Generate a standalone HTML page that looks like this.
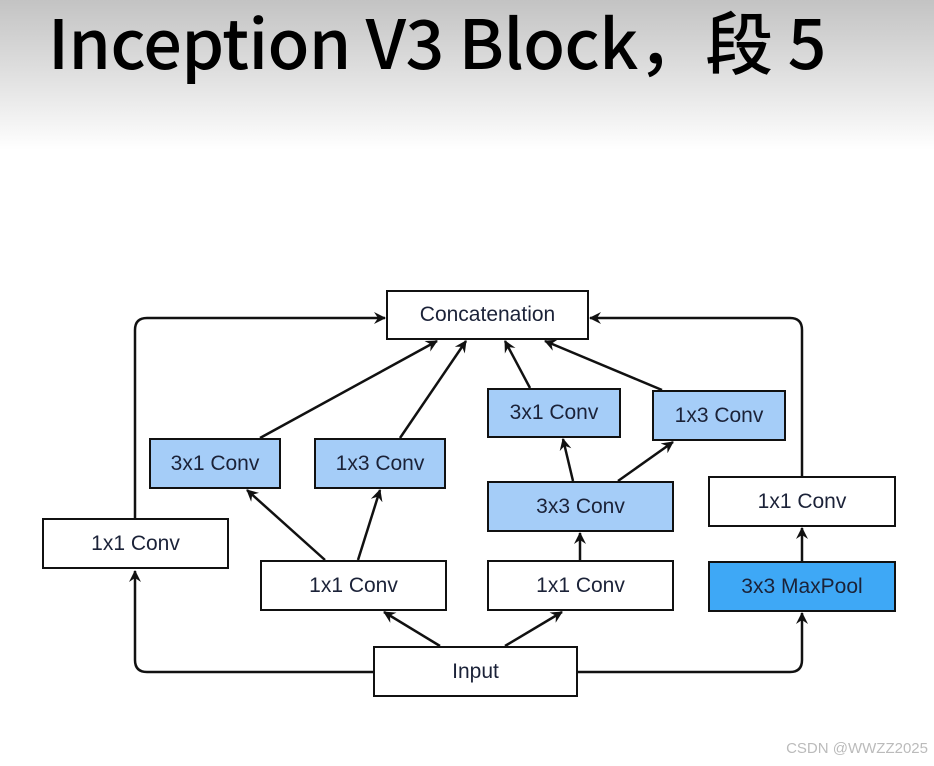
<!DOCTYPE html>
<html><head><meta charset="utf-8"><style>
html,body{margin:0;padding:0}
body{width:934px;height:766px;position:relative;overflow:hidden;background:#fff;font-family:"Liberation Sans",sans-serif}
.hdr{position:absolute;left:0;top:0;width:934px;height:150px;background:linear-gradient(#c3c3c3,#e6e6e6 60%,#fff)}
.title{position:absolute;left:48px;top:-10px;font-family:"Noto Sans CJK SC",sans-serif;font-weight:500;font-size:68px;color:#000;white-space:nowrap;letter-spacing:-0.5px}
.b{position:absolute;box-sizing:border-box;border:2px solid #111;background:#fff;display:flex;align-items:center;justify-content:center;font-size:21px;color:#1b2238}
.l{background:#a5cdf8}.d{background:#3ea8f6}
.wm{position:absolute;right:6px;top:740px;font-size:15px;color:#bbb}
</style></head><body>
<div class="hdr"></div>
<div class="title">Inception V3 Block，段 5</div>
<svg width="934" height="766" style="position:absolute;left:0;top:0">
<defs><marker id="a" markerWidth="12" markerHeight="12" refX="11" refY="6" orient="auto" markerUnits="userSpaceOnUse"><path d="M0,0 L12,6 L0,12 L4,6 z" fill="#111"/></marker></defs>
<g stroke="#111" stroke-width="2.5" fill="none" marker-end="url(#a)">
<path d="M373,672 H147 Q135,672 135,660 V571"/>
<path d="M135,518 V330 Q135,318 147,318 H385"/>
<path d="M578,672 H790 Q802,672 802,660 V613"/>
<path d="M802,561 V528"/>
<path d="M802,476 V330 Q802,318 790,318 H590"/>
<path d="M440,646 L384,612"/>
<path d="M505,646 L562,612"/>
<path d="M325,560 L247,490"/>
<path d="M358,560 L380,490"/>
<path d="M260,438 L437,341"/>
<path d="M400,438 L466,341"/>
<path d="M580,560 L580,533"/>
<path d="M573,481 L563,439"/>
<path d="M618,481 L673,442"/>
<path d="M530,388 L505,341"/>
<path d="M662,390 L545,341"/>
</g></svg>
<div class="b" style="left:386px;top:290px;width:203px;height:50px">Concatenation</div>
<div class="b l" style="left:149px;top:438px;width:132px;height:51px">3x1 Conv</div>
<div class="b l" style="left:314px;top:438px;width:132px;height:51px">1x3 Conv</div>
<div class="b l" style="left:487px;top:388px;width:134px;height:50px">3x1 Conv</div>
<div class="b l" style="left:652px;top:390px;width:134px;height:51px">1x3 Conv</div>
<div class="b l" style="left:487px;top:481px;width:187px;height:51px">3x3 Conv</div>
<div class="b" style="left:708px;top:476px;width:188px;height:51px">1x1 Conv</div>
<div class="b" style="left:42px;top:518px;width:187px;height:51px">1x1 Conv</div>
<div class="b" style="left:260px;top:560px;width:187px;height:51px">1x1 Conv</div>
<div class="b" style="left:487px;top:560px;width:187px;height:51px">1x1 Conv</div>
<div class="b d" style="left:708px;top:561px;width:188px;height:51px">3x3 MaxPool</div>
<div class="b" style="left:373px;top:646px;width:205px;height:51px">Input</div>
<div class="wm">CSDN @WWZZ2025</div>
</body></html>
